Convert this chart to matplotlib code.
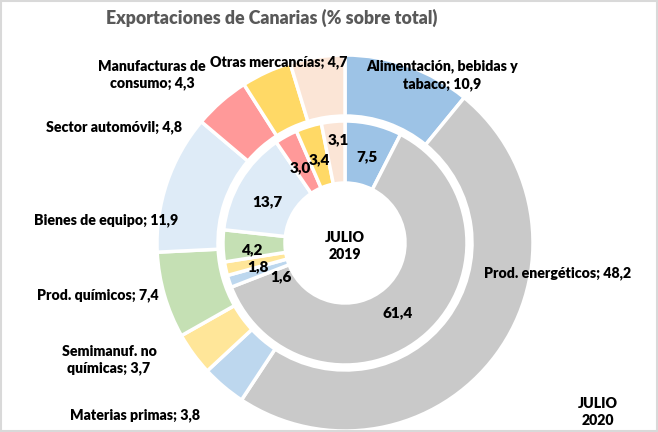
import matplotlib

matplotlib.use("Agg")
import matplotlib.pyplot as plt
from matplotlib.patches import Rectangle

# ── data ─────────────────────────────────────────────────────────────
CATEGORIES = [
    "Alimentación, bebidas y\ntabaco", "Prod. energéticos", "Materias primas",
    "Semimanuf. no\nquímicas", "Prod. químicos", "Bienes de equipo",
    "Sector automóvil", "Manufacturas de\nconsumo", "Otras mercancías",
]
JUL_2020 = [10.9, 48.2, 3.8, 3.7, 7.4, 11.9, 4.8, 4.3, 4.7]   # outer ring
JUL_2019 = [7.5, 61.4, 1.6, 1.8, 4.2, 13.7, 3.0, 3.4, 3.1]    # inner ring
COLORS = ["#9DC3E6", "#C9C9C9", "#BDD7EE", "#FFE699", "#C5E0B4",
          "#DEEBF7", "#FF9999", "#FFD966", "#FBE5D6"]

# ── layout (pixel coords, y from top) ────────────────────────────────
W, H = 658, 432
CX, CY = 345, 243
R_OUT, R_MID, R_IN_OUT, R_HOLE = 188, 127, 122, 60
OUTER_LABELPOS = [(442, 75), (558, 273), (135, 415), (109, 360), (98, 295),
                  (106, 220), (114, 127), (152, 75), (279, 62)]
INNER_LABELPOS = [(367, 157), (398, 313), (281, 277), (258, 267), (253, 250),
                  (267, 202), (300, 168), (319, 160), (338, 140)]

FONT = "Lato"
fmt = lambda v: f"{v:.1f}".replace(".", ",")

fig = plt.figure(figsize=(W / 100, H / 100), dpi=100)
ax = fig.add_axes([0, 0, 1, 1])

center = (CX, H - CY)
ax.pie(JUL_2020, radius=R_OUT, center=center, colors=COLORS, startangle=90,
       counterclock=False, frame=True,
       wedgeprops=dict(width=R_OUT - R_MID, edgecolor="white", linewidth=2.5))
ax.pie(JUL_2019, radius=R_IN_OUT, center=center, colors=COLORS, startangle=90,
       counterclock=False, frame=True,
       wedgeprops=dict(width=R_IN_OUT - R_HOLE, edgecolor="white", linewidth=2.5))
ax.set_xlim(0, W)
ax.set_ylim(0, H)
ax.set_aspect("equal")
ax.axis("off")

txt = dict(ha="center", va="center", fontsize=10.2, fontweight="heavy",
           color="black", family=FONT, linespacing=1.35)
for name, v, (x, y) in zip(CATEGORIES, JUL_2020, OUTER_LABELPOS):
    ax.text(x, H - y, f"{name}; {fmt(v)}", **txt)
for v, (x, y) in zip(JUL_2019, INNER_LABELPOS):
    ax.text(x, H - y, fmt(v), fontsize=11, **{k: t for k, t in txt.items() if k != "fontsize"})

ax.text(CX, H - 246, "JULIO\n2019", **txt)
ax.text(598, H - 412, "JULIO\n2020", **txt)

ax.text(272, H - 18, "Exportaciones de Canarias (% sobre total)",
        ha="center", va="center", fontsize=12.8, fontweight="heavy",
        color="#595959", family=FONT)

fig.patches.append(Rectangle((0.002, 0.002), 0.996, 0.996, transform=fig.transFigure,
                             fill=False, edgecolor="#D9D9D9", linewidth=1.5))

fig.savefig("out.png")
